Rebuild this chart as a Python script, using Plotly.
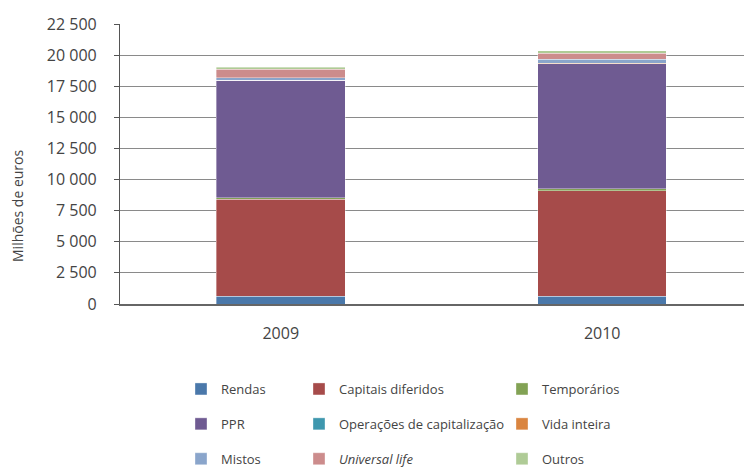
import plotly.graph_objects as go

years = ["2009", "2010"]
series_names = ["Rendas", "Capitais diferidos", "Temporários", "PPR",
                "Operações de capitalização", "Vida inteira", "Mistos",
                "<i>Universal life</i>", "Outros"]
rendas = [620, 620]
capitais = [7800, 8465]
temporarios = [130, 160]
ppr = [9440, 10055]
operacoes = [0, 20]
vida_inteira = [0, 20]
mistos = [210, 330]
universal = [670, 480]
outros = [160, 190]
y_ticks = [0, 2500, 5000, 7500, 10000, 12500, 15000, 17500, 20000, 22500]
y_tick_labels = ["0", "2 500", "5 000", "7 500", "10 000", "12 500", "15 000", "17 500", "20 000", "22 500"]

values = [rendas, capitais, temporarios, ppr, operacoes, vida_inteira, mistos, universal, outros]
colors = ["#4A78AA", "#A64B4A", "#82A254", "#6F5B92", "#3E97AE", "#DA8540",
          "#8AA5CB", "#CC8C8C", "#AFCB96"]
legend_ids = ["legend", "legend2", "legend3"]

# page body has an 8px margin; figure is sized to fill the rest of the window
OFF = 8
W, H = 752 - OFF, 467 - OFF
ML, MT, PH = 120 - OFF, 24 - OFF, 280
MB = H - MT - PH
PW = W - ML

fig = go.Figure()
for i, (name, vals, col) in enumerate(zip(series_names, values, colors)):
    fig.add_trace(go.Bar(
        x=years, y=vals, name=name, width=0.4,
        marker=dict(color=col, line=dict(color="rgba(255,255,255,0.45)", width=0.8)),
        legend=legend_ids[i % 3], legendgroup=name,
    ))

font_family = "Open Sans, sans-serif"
leg_top = (H - 366) / H
leg_common = dict(orientation="v", bgcolor="rgba(0,0,0,0)", tracegroupgap=15,
                  font=dict(family=font_family, size=13, color="#444"),
                  xanchor="left", yanchor="top", yref="container", y=leg_top,
                  itemclick=False)

def px_to_paper(px_ref):
    return (px_ref - OFF - ML) / PW

fig.update_layout(
    width=W, height=H,
    margin=dict(l=ML, r=0, t=MT, b=MB, autoexpand=False),
    barmode="stack",
    paper_bgcolor="white", plot_bgcolor="white",
    font=dict(family=font_family, size=14, color="#444"),
    xaxis=dict(type="category", range=[-0.5, 1.466], showline=True, linecolor="#666",
               linewidth=1.5, ticks="", tickfont=dict(size=16, color="#444"),
               ticklabelstandoff=14, showgrid=False, zeroline=False),
    yaxis=dict(range=[0, 22500], tickvals=y_ticks, ticktext=y_tick_labels,
               showgrid=True, gridcolor="#8a8a8a", gridwidth=1,
               showline=True, linecolor="#555", linewidth=1.2,
               ticks="outside", ticklen=5, tickcolor="#555",
               ticklabelstandoff=14, tickfont=dict(size=16, color="#444"), zeroline=False),
    legend=dict(x=px_to_paper(181), **leg_common),
    legend2=dict(x=px_to_paper(299), **leg_common),
    legend3=dict(x=px_to_paper(502), **leg_common),
    annotations=[dict(text="Milhões de euros", textangle=-90, xref="paper", yref="paper",
                      x=px_to_paper(17), y=(304 - 206) / 280, showarrow=False,
                      font=dict(size=14, color="#444"), xanchor="center", yanchor="middle")],
)
fig.write_html("out.html")
